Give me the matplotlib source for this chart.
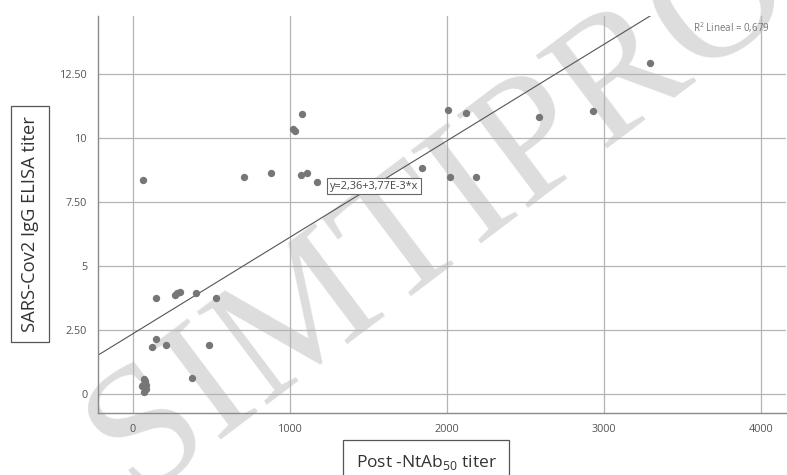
import matplotlib
matplotlib.use("Agg")
import matplotlib.pyplot as plt
import numpy as np

plt.rcParams['font.family'] = ['Open Sans', 'DejaVu Sans']
plt.rcParams['mathtext.fontset'] = 'custom'
plt.rcParams['mathtext.rm'] = 'Open Sans'

# Data
ntab = [62, 704, 882, 1016, 1033, 1077, 1069, 1109, 1175,
        3295, 2006, 2118, 2589, 2933, 1841, 2019, 2182,
        146, 267, 278, 299, 401, 526, 146, 123, 212, 485, 377,
        65, 75, 80, 70, 85, 60, 72]
igg = [8.36, 8.48, 8.63, 10.35, 10.27, 10.94, 8.55, 8.64, 8.29,
       12.93, 11.09, 11.0, 10.82, 11.07, 8.82, 8.49, 8.48,
       3.74, 3.89, 3.96, 4.0, 3.96, 3.76, 2.14, 1.82, 1.91, 1.93, 0.61,
       0.35, 0.5, 0.2, 0.1, 0.35, 0.3, 0.58]
intercept = 2.36
slope = 3.77e-3
r2_text = "R$^2$ Lineal = 0,679"
eq_text = "y=2,36+3,77E-3*x"
xticks = [0, 1000, 2000, 3000, 4000]
yticks = [0, 2.5, 5, 7.5, 10, 12.5]
ytick_labels = ["0", "2.50", "5", "7.50", "10", "12.50"]

fig = plt.figure(figsize=(7.87, 4.75), dpi=100)
ax = fig.add_axes([0.1249, 0.13, 0.874, 0.836])
xmin, xmax = -221, 4160
ymin, ymax = -0.75, 14.77
ax.set_xlim(xmin, xmax)
ax.set_ylim(ymin, ymax)

# watermark
ax.text(0.56, 0.555, "SIMTIPRO", transform=fig.transFigure, fontsize=128,
        color='#dddddd', family=['Liberation Serif', 'DejaVu Serif'],
        rotation=37, ha='center', va='center', zorder=0.3, clip_on=False)

ax.set_xticks(xticks)
ax.set_yticks(yticks)
ax.set_yticklabels(ytick_labels)
ax.grid(True, color='#b4b4b4', linewidth=0.9, zorder=0.5)
ax.set_axisbelow(True)
ax.tick_params(length=0, labelsize=7.8, labelcolor='#555555', pad=8)
for s in ['top', 'right']:
    ax.spines[s].set_visible(False)
for s in ['left', 'bottom']:
    ax.spines[s].set_color('#8a8a8a')
    ax.spines[s].set_linewidth(1.0)
ax.patch.set_alpha(0)

ax.scatter(ntab, igg, s=28, color='#767676', zorder=3, linewidths=0)

xl = np.array([xmin, xmax])
ax.plot(xl, intercept + slope * xl, color='#555555', linewidth=0.8, zorder=2)

ax.text(374, 475 - 186, eq_text, transform=None, fontsize=7.8, color='#444444',
        ha='center', va='center', zorder=4,
        bbox=dict(boxstyle='square,pad=0.25', facecolor='white', edgecolor='#666666', linewidth=0.8))
fig.text(731 / 787, 1 - 28 / 475, r2_text, fontsize=7, color='#777777',
         ha='center', va='center')

fig.text(30 / 787, 1 - 224 / 475, "SARS-Cov2 IgG ELISA titer", rotation=90,
         fontsize=13.2, color='#333333', ha='center', va='center',
         bbox=dict(boxstyle='square,pad=0.55', facecolor='white', edgecolor='#555555', linewidth=0.9))
fig.text(426 / 787, 1 - 462 / 475, "Post -NtAb$_{\\mathregular{50}}$ titer",
         fontsize=12.5, color='#333333', ha='center', va='center',
         bbox=dict(boxstyle='square,pad=0.7', facecolor='white', edgecolor='#555555', linewidth=0.9))

fig.savefig("out.png", dpi=100)
